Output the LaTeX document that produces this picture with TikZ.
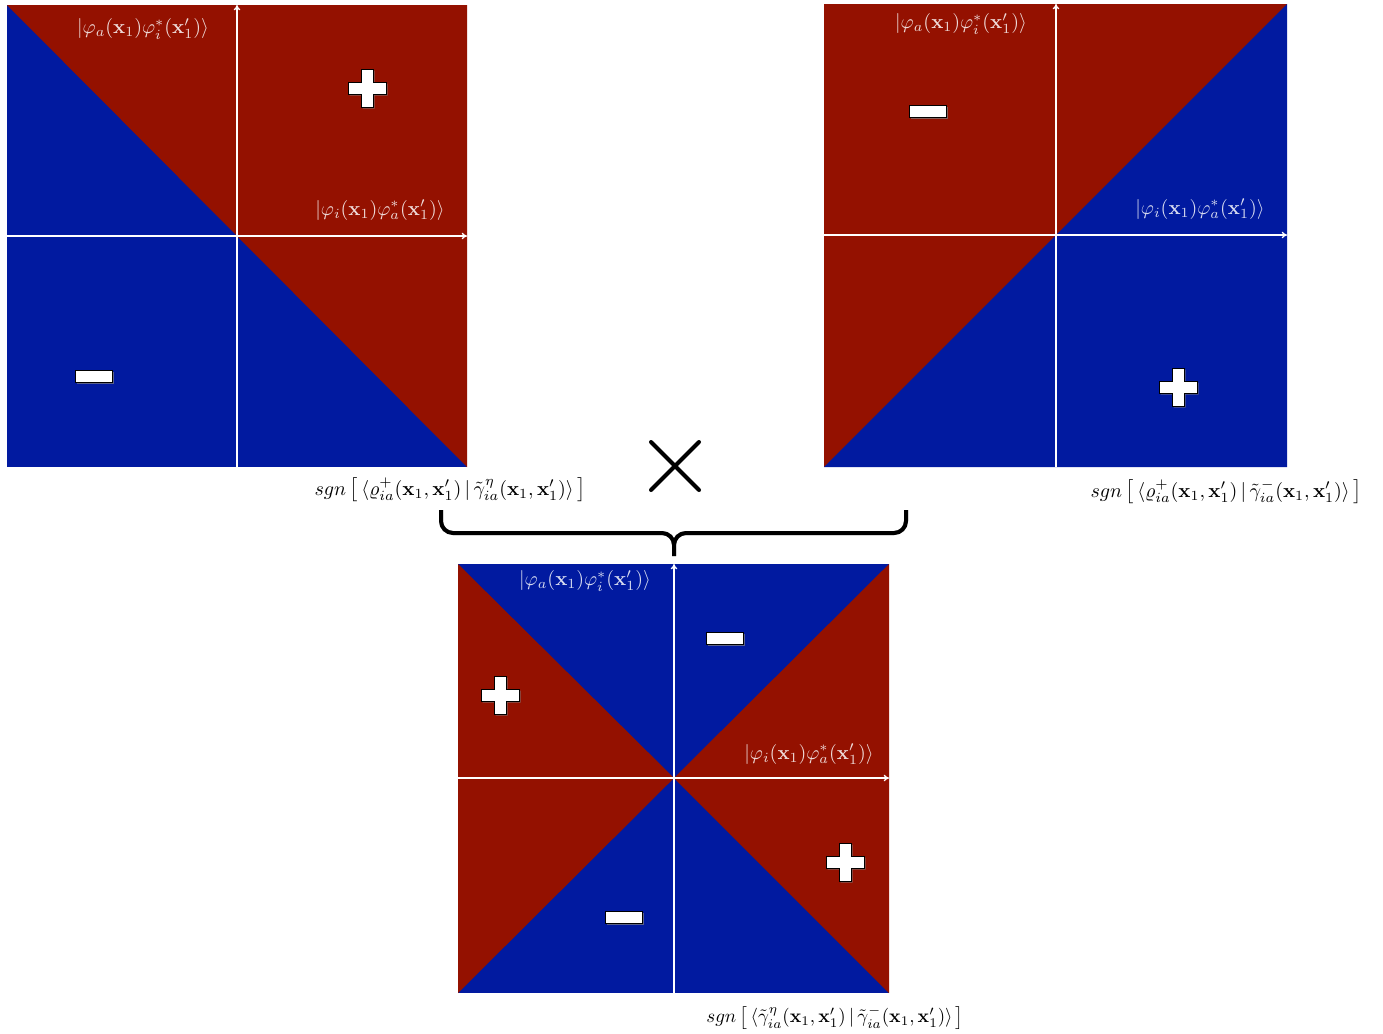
\documentclass[tikz,border=0pt]{standalone}
\usepackage{amsmath,amssymb}
\usetikzlibrary{arrows.meta,shadows}
\definecolor{sgnred}{RGB}{148,17,0}
\definecolor{sgnblue}{RGB}{1,26,160}
\tikzset{
  axis/.style={white, line width=1pt, -{To[length=4pt,width=5pt]}},
  ketlabel/.style={text=white, text opacity=0.85, inner sep=0pt, scale=1.5},
  sgnlabel/.style={inner sep=0pt, scale=1.5},
  signshape/.style={fill=white, draw=black, line width=0.6pt,
    drop shadow={shadow xshift=1.2pt, shadow yshift=-1.2pt, opacity=0.7}},
  bracepart/.style={line width=3pt, rounded corners=9pt}
}
\newcommand{\plusmark}[2]{\filldraw[signshape, shift={(#1,#2)}] (-19,-6) -- (-6,-6) -- (-6,-19) -- (6,-19) -- (6,-6) -- (19,-6) -- (19,6) -- (6,6) -- (6,19) -- (-6,19) -- (-6,6) -- (-19,6) -- cycle;}
\newcommand{\minusmark}[2]{\filldraw[signshape, shift={(#1,#2)}] (-18.5,-6) rectangle (18.5,6);}
\newcommand{\ketai}{$|\varphi_a(\mathbf{x}_1)\varphi_i^*(\mathbf{x}_1')\rangle$}
\newcommand{\ketia}{$|\varphi_i(\mathbf{x}_1)\varphi_a^*(\mathbf{x}_1')\rangle$}
\begin{document}
\begin{tikzpicture}[x=0.75pt,y=-0.75pt]
  \useasboundingbox (0,0) rectangle (1383,1033);
  % upper left
  \fill[sgnblue] (7,5) rectangle (467,467);
  \fill[sgnred] (7,5) -- (467,5) -- (467,467) -- cycle;
  \coordinate (Aw) at (7,236);
  \coordinate (Ae) at (467,236);
  \coordinate (As) at (237,467);
  \coordinate (An) at (237,5);
  \draw[axis] (Aw) -- (Ae);
  \draw[axis] (As) -- (An);
  \node[ketlabel] (Aup) at (143,29) {\ketai};
  \node[ketlabel] (Aright) at (380,210) {\ketia};
  \plusmark{367}{88}
  \minusmark{94}{376}
  \node[sgnlabel] (Asgn) at (450,490) {$sgn\left[\,\langle\varrho^+_{ia}(\mathbf{x}_1,\mathbf{x}_1')\,|\,\tilde{\gamma}^{\eta}_{ia}(\mathbf{x}_1,\mathbf{x}_1')\rangle\,\right]$};
  % upper right
  \fill[sgnred] (824,4) rectangle (1287,467);
  \fill[sgnblue] (824,467) -- (1287,4) -- (1287,467) -- cycle;
  \coordinate (Bw) at (824,235);
  \coordinate (Be) at (1287,235);
  \coordinate (Bs) at (1056,467);
  \coordinate (Bn) at (1056,4);
  \draw[axis] (Bw) -- (Be);
  \draw[axis] (Bs) -- (Bn);
  \node[ketlabel] (Bup) at (961,24) {\ketai};
  \node[ketlabel] (Bright) at (1200,209) {\ketia};
  \minusmark{928}{111}
  \plusmark{1178}{387}
  \node[sgnlabel] (Bsgn) at (1226,492) {$sgn\left[\,\langle\varrho^+_{ia}(\mathbf{x}_1,\mathbf{x}_1')\,|\,\tilde{\gamma}^{-}_{ia}(\mathbf{x}_1,\mathbf{x}_1')\rangle\,\right]$};
  % product
  \draw[line width=3pt, line cap=round] (651,442) -- (699,490);
  \draw[line width=3pt, line cap=round] (651,490) -- (699,442);
  \coordinate (Lb) at (441,510);
  \coordinate (Rb) at (906,510);
  \coordinate (Mb) at (674,533);
  \coordinate (Tb) at (674,556);
  \draw[bracepart, black!35, shift={(1.5,1.5)}] (Lb) |- (Mb) -- (Tb) (Rb) |- (Mb) -- (Tb);
  \draw[bracepart] (Lb) |- (Mb) -- (Tb) (Rb) |- (Mb) -- (Tb);
  % bottom
  \fill[sgnblue] (458,564) rectangle (889,993);
  \fill[sgnred] (458,564) -- (674,778) -- (458,993) -- cycle;
  \fill[sgnred] (889,564) -- (674,778) -- (889,993) -- cycle;
  \coordinate (Cw) at (458,778);
  \coordinate (Ce) at (889,778);
  \coordinate (Cs) at (674,993);
  \coordinate (Cn) at (674,564);
  \draw[axis] (Cw) -- (Ce);
  \draw[axis] (Cs) -- (Cn);
  \node[ketlabel] (Cup) at (585,581) {\ketai};
  \node[ketlabel] (Cright) at (809,754) {\ketia};
  \plusmark{500}{695}
  \minusmark{725}{638}
  \plusmark{845}{862}
  \minusmark{624}{917}
  \node[sgnlabel, scale=0.95] (Csgn) at (835,1018) {$sgn\left[\,\langle\tilde{\gamma}^{\eta}_{ia}(\mathbf{x}_1,\mathbf{x}_1')\,|\,\tilde{\gamma}^{-}_{ia}(\mathbf{x}_1,\mathbf{x}_1')\rangle\,\right]$};
\end{tikzpicture}
\end{document}
